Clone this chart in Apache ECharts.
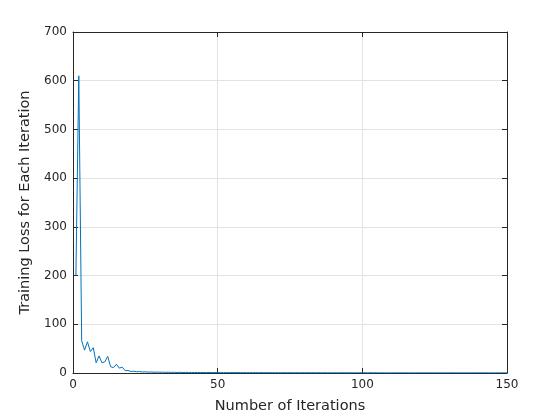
<!DOCTYPE html>
<html>
<head>
<meta charset="utf-8">
<script src="https://cdn.jsdelivr.net/npm/echarts@6/dist/echarts.min.js"></script>
<style>html,body{margin:0;padding:0;background:#fff;}#c{width:560px;height:420px;}</style>
</head>
<body>
<div id="c"></div>
<script>
const xLabel = 'Number of Iterations';
const yLabel = 'Training Loss for Each Iteration';
const xTicks = [0, 50, 100, 150];
const yTicks = [0, 100, 200, 300, 400, 500, 600, 700];
// Loss for iterations 1..150
const loss = [
  200, 610, 66, 47, 64, 44, 52, 21, 35, 21,
  23, 34, 13, 11, 18, 10, 12, 5, 5, 3.2,
  3.6, 2.6, 2.9, 2.1, 2.4, 1.8, 2.1, 1.6, 1.9, 1.5,
  1.7, 1.3, 1.6, 1.2, 1.5, 1.1, 1.4, 1.0, 1.3, 1.0,
  1.2, 0.9, 1.1, 0.9, 1.1, 0.8, 1.0, 0.8, 1.0, 0.8,
  0.9, 0.7, 0.9, 0.7, 0.9, 0.7, 0.8, 0.7, 0.8, 0.6,
  0.8, 0.6, 0.8, 0.6, 0.7, 0.6, 0.7, 0.6, 0.7, 0.5,
  0.7, 0.5, 0.7, 0.5, 0.6, 0.5, 0.6, 0.5, 0.6, 0.5,
  0.6, 0.5, 0.6, 0.4, 0.6, 0.4, 0.6, 0.4, 0.5, 0.4,
  0.5, 0.4, 0.5, 0.4, 0.5, 0.4, 0.5, 0.4, 0.5, 0.4,
  0.5, 0.4, 0.5, 0.3, 0.5, 0.3, 0.5, 0.3, 0.4, 0.3,
  0.4, 0.3, 0.4, 0.3, 0.4, 0.3, 0.4, 0.3, 0.4, 0.3,
  0.4, 0.3, 0.4, 0.3, 0.4, 0.3, 0.4, 0.3, 0.4, 0.3,
  0.4, 0.3, 0.4, 0.3, 0.4, 0.3, 0.4, 0.3, 0.4, 0.3,
  0.4, 0.3, 0.4, 0.3, 0.4, 0.3, 0.4, 0.3, 0.4, 0.3
];
const points = loss.map((v, i) => [i + 1, v]);

const font = 'DejaVu Sans';
const axCol = '#262626';
const gridCol = '#e3e3e3';

const chart = echarts.init(document.getElementById('c'), null, {renderer: 'canvas'});
const baseX = {
  type: 'value', min: xTicks[0], max: xTicks[xTicks.length - 1], interval: 50,
  axisLine: {show: true, onZero: false, lineStyle: {color: axCol, width: 1}},
  axisTick: {show: true, inside: true, length: 5, lineStyle: {color: axCol}},
};
const baseY = {
  type: 'value', min: yTicks[0], max: yTicks[yTicks.length - 1], interval: 100,
  axisLine: {show: true, onZero: false, lineStyle: {color: axCol, width: 1}},
  axisTick: {show: true, inside: true, length: 5, lineStyle: {color: axCol}},
};
chart.setOption({
  animation: false,
  backgroundColor: '#ffffff',
  grid: {left: 73, right: 53, top: 32, bottom: 47, containLabel: false},
  xAxis: [
    Object.assign({}, baseX, {
      position: 'bottom',
      name: xLabel, nameLocation: 'middle', nameGap: 26,
      nameTextStyle: {fontFamily: font, fontSize: 14.5, color: axCol},
      axisLabel: {fontFamily: font, fontSize: 12, color: axCol, margin: 6},
      splitLine: {show: true, lineStyle: {color: gridCol, width: 1}}
    }),
    Object.assign({}, baseX, {
      position: 'top', axisLabel: {show: false}, splitLine: {show: false}
    })
  ],
  yAxis: [
    Object.assign({}, baseY, {
      position: 'left',
      name: yLabel, nameLocation: 'middle', nameGap: 32,
      nameTextStyle: {fontFamily: font, fontSize: 14.5, color: axCol},
      axisLabel: {fontFamily: font, fontSize: 12, color: axCol, margin: 6},
      splitLine: {show: true, lineStyle: {color: gridCol, width: 1}}
    }),
    Object.assign({}, baseY, {
      position: 'right', axisLabel: {show: false}, splitLine: {show: false}
    })
  ],
  series: [{
    type: 'line', data: points, xAxisIndex: 0, yAxisIndex: 0,
    showSymbol: false, symbol: 'none',
    lineStyle: {color: '#0072BD', width: 1},
    z: 5
  }]
});
</script>
</body>
</html>
